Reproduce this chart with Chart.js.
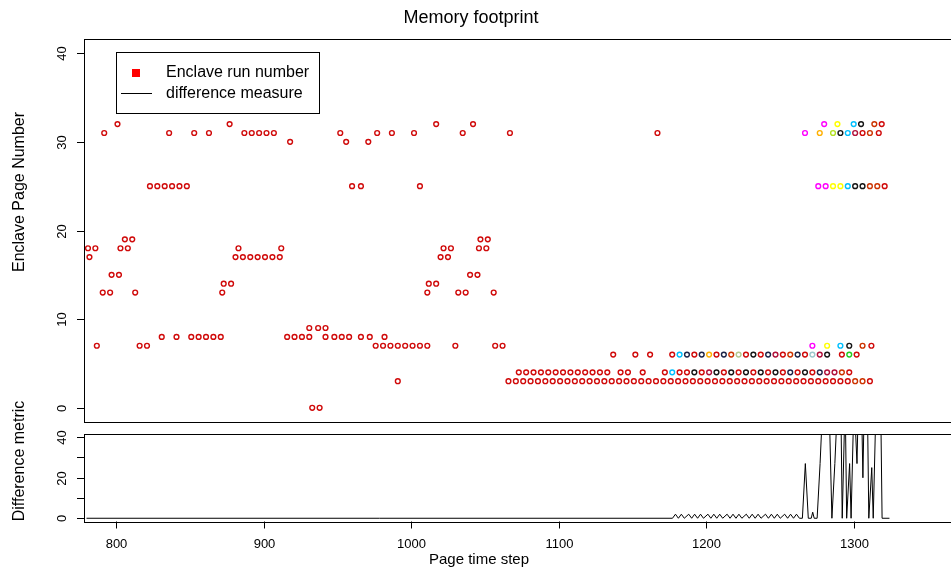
<!DOCTYPE html>
<html>
<head>
<meta charset="utf-8">
<script src="https://cdn.jsdelivr.net/npm/chart.js@4.4.1/dist/chart.umd.min.js"></script>
<style>
  html, body { margin: 0; padding: 0; background: #fff; overflow: hidden; }
  #wrap { position: relative; width: 951px; height: 570px; overflow: hidden; }
  canvas { position: absolute; left: 0; top: 0; }
</style>
</head>
<body>
<div id="wrap">
  <canvas id="pages" width="960" height="570"></canvas>
  <canvas id="diff" width="960" height="570"></canvas>
</div>
<script>
// axis setup
const xMin = 778.3, xMax = 1368.4;
const xTicks = [800, 900, 1000, 1100, 1200, 1300];
const pageTicks = [0, 10, 20, 30, 40];
const diffTicks = [0, 10, 20, 30, 40];
const diffTickLabels = [0, 20, 40];

// page accesses: time steps per enclave page, run codes aligned to the end (rest = run r)
const steps32 = [801, 877, 1017, 1042, 1280, 1289, 1300, 1305, 1314, 1319];
const runs32 = "myckor";
const steps31 = [792, 836, 853, 863, 887, 892, 897, 902, 907, 952, 977, 987, 1002, 1035, 1067, 1167, 1267, 1277, 1286, 1291, 1296, 1301, 1306, 1311, 1317];
const runs31 = "malkcdror";
const steps30 = [918, 956, 971];
const steps25 = [823, 828, 833, 838, 843, 848, 960, 966, 1006, 1276, 1281, 1286, 1291, 1296, 1301, 1306, 1311, 1316, 1321];
const runs25 = "mmyyckkoor";
const steps19 = [806, 811, 1047, 1052];
const steps18 = [781, 786, 803, 808, 883, 912, 1022, 1027, 1046, 1051];
const steps17 = [782, 881, 886, 891, 896, 901, 906, 911, 1020, 1025];
const steps15 = [797, 802, 1040, 1045];
const steps14 = [873, 878, 1012, 1017];
const steps13 = [791, 796, 813, 872, 1011, 1032, 1037, 1056];
const steps9 = [931, 937, 942];
const steps8 = [831, 841, 851, 856, 861, 866, 871, 916, 921, 926, 931, 942, 948, 953, 958, 966, 972, 982];
const steps7 = [787, 816, 821, 976, 981, 986, 991, 996, 1001, 1006, 1011, 1030, 1057, 1062, 1272, 1282, 1291, 1297, 1306, 1312];
const runs7 = "myckor";
const steps6 = [1137, 1152, 1162, 1177, 1182, 1187, 1192, 1197, 1202, 1207, 1212, 1217, 1222, 1227, 1232, 1237, 1242, 1247, 1252, 1257, 1262, 1267, 1272, 1277, 1282, 1292, 1297, 1302];
const runs6 = "cnrnarnoGrkrndronrbdkrgr";
const steps4 = [1073, 1078, 1083, 1088, 1093, 1098, 1103, 1108, 1113, 1118, 1123, 1128, 1133, 1142, 1147, 1157, 1172, 1177, 1182, 1187, 1192, 1197, 1202, 1207, 1212, 1217, 1222, 1227, 1232, 1237, 1242, 1247, 1252, 1257, 1262, 1267, 1272, 1277, 1282, 1287, 1292, 1297];
const runs4 = "crrkrdkrkrkrkrkrnrkrnddor";
const steps3 = [991, 1066, 1071, 1076, 1081, 1086, 1091, 1096, 1101, 1106, 1111, 1116, 1121, 1126, 1131, 1136, 1141, 1146, 1151, 1156, 1161, 1166, 1171, 1176, 1181, 1186, 1191, 1196, 1201, 1206, 1211, 1216, 1221, 1226, 1231, 1236, 1241, 1246, 1251, 1256, 1261, 1266, 1271, 1276, 1281, 1286, 1291, 1296, 1301, 1306, 1311];
const runs3 = "oor";
const steps0 = [933, 938];

// difference metric (values above 40 run off the top of the panel)
const diffSteps = [780, 1177, 1179, 1181, 1183, 1185, 1188, 1190, 1192, 1194, 1196, 1198, 1201, 1203, 1205, 1207, 1209, 1211, 1214, 1216, 1218, 1220, 1222, 1224, 1227, 1229, 1231, 1233, 1235, 1237, 1240, 1242, 1244, 1246, 1248, 1250, 1253, 1255, 1257, 1259, 1261, 1263,
  1265, 1267, 1269, 1271, 1272, 1273, 1275, 1277, 1279, 1281, 1283, 1285, 1287, 1289, 1291, 1292, 1294, 1295, 1297, 1298, 1300, 1302, 1303, 1305, 1306, 1307, 1309, 1310, 1312, 1313, 1315, 1317, 1318, 1319, 1324];
const diffValues = [0, 0, 2, 0, 2, 0, 2, 0, 2, 0, 2, 0, 2, 0, 2, 0, 2, 0, 2, 0, 2, 0, 2, 0, 2, 0, 2, 0, 2, 0, 2, 0, 2, 0, 2, 0, 2, 0, 2, 0, 2, 0,
  0, 27, 0, 0, 3, 0, 0, 27, 60, 60, 60, 0, 27, 60, 60, 0, 60, 0, 27, 0, 60, 27, 60, 60, 20, 60, 60, 0, 25, 0, 60, 60, 60, 0, 0];

const runColours = {
  r: "#d00a0a", m: "#ff00ff", y: "#ffff00", c: "#00c0ff", k: "#151515",
  o: "#cc3300", g: "#22cc22", G: "#b3c98f", n: "#1c2448", d: "#b0103a",
  a: "#ffb000", l: "#b2e020", b: "#9cc8cc"
};

const rows = [
  [32, steps32, runs32], [31, steps31, runs31], [30, steps30, ""], [25, steps25, runs25],
  [19, steps19, ""], [18, steps18, ""], [17, steps17, ""], [15, steps15, ""],
  [14, steps14, ""], [13, steps13, ""], [9, steps9, ""], [8, steps8, ""],
  [7, steps7, runs7], [6, steps6, runs6], [4, steps4, runs4], [3, steps3, runs3], [0, steps0, ""]
];

const pts = [], ptColours = [];
rows.forEach(([page, steps, runs]) => {
  const codes = runs.padStart(steps.length, "r");
  steps.forEach((s, i) => {
    pts.push({ x: s, y: page });
    ptColours.push(runColours[codes[i]]);
  });
});

const diffPts = diffSteps.map((s, i) => ({ x: s, y: diffValues[i] }));

const font = '"Liberation Sans", Arial, sans-serif';

// R-like axes, box, title and legend
const rAxes = {
  id: "rAxes",
  afterDraw(chart, args, o) {
    const ctx = chart.ctx, a = chart.chartArea;
    const xs = chart.scales.x, ys = chart.scales.y;
    ctx.save();
    ctx.strokeStyle = "#000";
    ctx.fillStyle = "#000";
    ctx.lineWidth = 1;
    ctx.strokeRect(Math.round(a.left) + 0.5, Math.round(a.top) + 0.5, Math.round(a.right - a.left), Math.round(a.bottom - a.top));

    // y ticks
    ctx.font = "13px " + font;
    ctx.textAlign = "center";
    ctx.textBaseline = "middle";
    o.yTicks.forEach(v => {
      const py = Math.round(ys.getPixelForValue(v)) + 0.5;
      ctx.beginPath();
      ctx.moveTo(a.left - 7, py);
      ctx.lineTo(a.left, py);
      ctx.stroke();
      if (o.yLabels.includes(v)) {
        ctx.save();
        ctx.translate(62, py);
        ctx.rotate(-Math.PI / 2);
        ctx.fillText(String(v), 0, 0);
        ctx.restore();
      }
    });

    // y title
    ctx.font = o.yTitleSize + "px " + font;
    ctx.save();
    ctx.translate(20, o.yTitleY);
    ctx.rotate(-Math.PI / 2);
    ctx.fillText(o.yTitle, 0, 0);
    ctx.restore();

    if (o.xAxis) {
      ctx.font = "13px " + font;
      xTicks.forEach(v => {
        const px = Math.round(xs.getPixelForValue(v)) + 0.5;
        ctx.beginPath();
        ctx.moveTo(px, a.bottom);
        ctx.lineTo(px, a.bottom + 7);
        ctx.stroke();
        ctx.fillText(String(v), px, 544);
      });
      ctx.font = "15px " + font;
      ctx.fillText("Page time step", 479, 560);
    }

    if (o.title) {
      ctx.font = "18px " + font;
      ctx.fillText(o.title, 471, 18);

      // legend
      ctx.strokeRect(116.5, 52.5, 203, 61);
      ctx.fillStyle = "#ff0000";
      ctx.fillRect(132, 69, 8, 8);
      ctx.fillStyle = "#000";
      ctx.beginPath();
      ctx.moveTo(121, 93.5);
      ctx.lineTo(152, 93.5);
      ctx.stroke();
      ctx.font = "16px " + font;
      ctx.textAlign = "left";
      ctx.fillText("Enclave run number", 166, 73);
      ctx.fillText("difference measure", 166, 94);
    }
    ctx.restore();
  }
};

const common = {
  responsive: false,
  animation: false,
  events: [],
  plugins: { legend: { display: false }, tooltip: { enabled: false } }
};

new Chart(document.getElementById("pages"), {
  type: "scatter",
  data: {
    datasets: [{
      data: pts,
      pointStyle: "circle",
      pointRadius: 2.4,
      pointBorderWidth: 1.4,
      pointBackgroundColor: "rgba(0,0,0,0)",
      pointBorderColor: ptColours
    }]
  },
  options: {
    ...common,
    layout: { padding: { left: 84, top: 39, right: 5, bottom: 148 } },
    scales: {
      x: { type: "linear", min: xMin, max: xMax, display: false },
      y: { type: "linear", min: -1.6, max: 41.6, display: false }
    },
    plugins: {
      ...common.plugins,
      rAxes: { yTicks: pageTicks, yLabels: pageTicks, yTitle: "Enclave Page Number", yTitleY: 192, yTitleSize: 16, title: "Memory footprint", xAxis: false }
    }
  },
  plugins: [rAxes]
});

new Chart(document.getElementById("diff"), {
  type: "scatter",
  data: {
    datasets: [{
      data: diffPts,
      showLine: true,
      borderColor: "#000",
      borderWidth: 1,
      pointRadius: 0
    }]
  },
  options: {
    ...common,
    layout: { padding: { left: 84, top: 434, right: 5, bottom: 48.5 } },
    scales: {
      x: { type: "linear", min: xMin, max: xMax, display: false },
      y: { type: "linear", min: -1.6, max: 41.6, display: false }
    },
    plugins: {
      ...common.plugins,
      rAxes: { yTicks: diffTicks, yLabels: diffTickLabels, yTitle: "Difference metric", yTitleY: 461, yTitleSize: 16, title: null, xAxis: true }
    }
  },
  plugins: [rAxes]
});
</script>
</body>
</html>
